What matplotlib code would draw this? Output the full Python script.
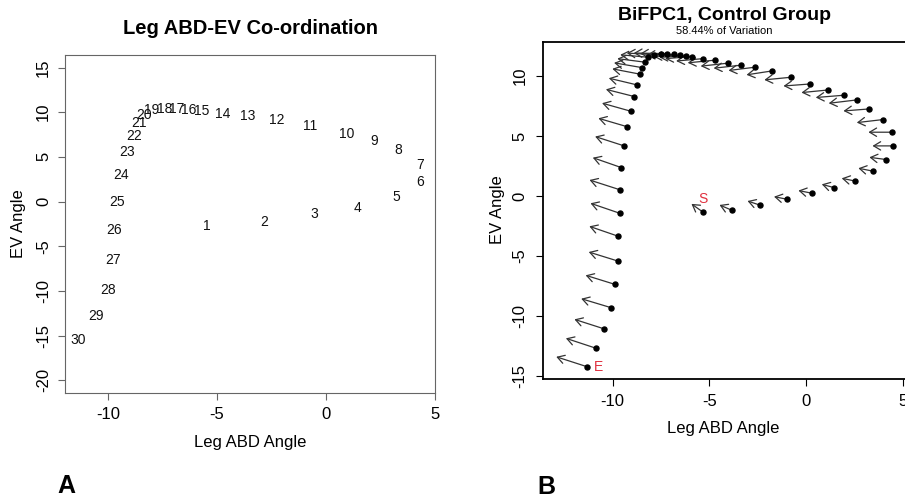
import numpy as np
from matplotlib import pyplot as plt

plt.rcParams['font.family'] = ['Liberation Sans', 'DejaVu Sans']
plt.rcParams['axes.unicode_minus'] = False

# panel A: numbered time points
a_labels = [str(i) for i in range(1, 31)]
a_x = [-5.46, -2.85, -0.54, 1.44, 3.21, 4.34, 4.34, 3.33, 2.22, 0.95,
       -0.74, -2.27, -3.60, -4.75, -5.72, -6.29, -6.87, -7.41, -7.99, -8.37,
       -8.59, -8.79, -9.12, -9.43, -9.60, -9.71, -9.78, -10.01, -10.58, -11.39]
a_y = [-2.76, -2.31, -1.37, -0.70, 0.52, 2.23, 4.10, 5.73, 6.77, 7.51,
       8.40, 9.15, 9.52, 9.79, 10.16, 10.27, 10.35, 10.38, 10.27, 9.71,
       8.78, 7.37, 5.50, 3.01, 0.0, -3.20, -6.58, -9.93, -12.87, -15.48]

# panel B: points with direction arrows
b_x = [-5.35, -3.84, -2.36, -0.97, 0.29, 1.45, 2.51, 3.47, 4.15, 4.51,
       4.46, 3.96, 3.27, 2.62, 1.95, 1.15, 0.22, -0.77, -1.74, -2.62,
       -3.39, -4.06, -4.73, -5.33, -5.90, -6.20, -6.50, -6.85, -7.19, -7.52,
       -7.88, -8.19, -8.31, -8.48, -8.57, -8.74, -8.88, -9.07, -9.28, -9.41,
       -9.55, -9.60, -9.64, -9.71, -9.74, -9.90, -10.08, -10.43, -10.86, -11.32]
b_y = [-1.33, -1.19, -0.78, -0.28, 0.23, 0.69, 1.25, 2.06, 3.03, 4.17,
       5.31, 6.36, 7.25, 8.00, 8.39, 8.83, 9.33, 9.89, 10.42, 10.73,
       10.89, 11.06, 11.31, 11.44, 11.61, 11.67, 11.72, 11.79, 11.86, 11.86,
       11.78, 11.56, 11.14, 10.69, 10.14, 9.25, 8.28, 7.06, 5.78, 4.17,
       2.36, 0.50, -1.44, -3.36, -5.42, -7.36, -9.31, -11.08, -12.69, -14.23]
b_dx = [-0.58, -0.64, -0.67, -0.69, -0.69, -0.64, -0.67, -0.77, -0.88, -1.08,
        -1.24, -1.34, -1.34, -1.45, -1.45, -1.39, -1.39, -1.39, -1.34, -1.39,
        -1.39, -1.39, -1.39, -1.39, -1.39, -1.39, -1.39, -1.39, -1.39, -1.39,
        -1.39, -1.42, -1.45, -1.45, -1.45, -1.46, -1.47, -1.48, -1.46, -1.50,
        -1.48, -1.60, -1.51, -1.50, -1.50, -1.50, -1.55, -1.55, -1.56, -1.60]
b_dy = [0.67, 0.44, 0.36, 0.22, 0.22, 0.28, 0.22, 0.25, 0.19, 0.0,
        0.0, -0.25, -0.17, -0.28, -0.19, -0.22, -0.17, -0.22, -0.33, -0.28,
        -0.25, -0.25, -0.22, -0.20, -0.17, -0.12, -0.10, -0.05, 0.0, 0.05,
        0.12, 0.20, 0.30, 0.40, 0.45, 0.56, 0.60, 0.67, 0.69, 0.78,
        0.83, 0.83, 0.83, 0.83, 0.75, 0.75, 0.75, 0.80, 0.83, 0.83]

W, H = 905, 501
fig = plt.figure(figsize=(W/100, H/100), dpi=100)

def px(x, y):
    return x/W, 1 - y/H

# ---- panel A
axA = fig.add_axes([65/W, 1 - 392.7/H, 370/W, 337.7/H])
for lab, x, y in zip(a_labels, a_x, a_y):
    axA.text(x, y, lab, fontsize=10, ha='center', va='center', color='#111111')
axA.set_xlim(-11.98, 5.0)
axA.set_ylim(-21.4, 16.4)
axA.set_xticks([-10, -5, 0, 5])
axA.set_yticks([-20, -15, -10, -5, 0, 5, 10, 15])
for s in axA.spines.values():
    s.set_color('#666666')
axA.tick_params(axis='x', length=5, color='#666666', labelsize=12, pad=5)
axA.tick_params(axis='y', length=5, color='#666666', labelsize=12, pad=5)
plt.setp(axA.get_yticklabels(), rotation=90, va='center')
fig.text(*px(250, 28), 'Leg ABD-EV Co-ordination', fontsize=14.5, fontweight='bold',
         ha='center', va='center')
fig.text(*px(250, 442), 'Leg ABD Angle', fontsize=12, ha='center', va='center')
fig.text(*px(18, 224), 'EV Angle', fontsize=12, ha='center', va='center', rotation=90)
fig.text(*px(66, 486), 'A', fontsize=18, fontweight='bold', ha='center', va='center')

# ---- panel B
axB = fig.add_axes([542.7/W, 1 - 379/H, 364.2/W, 336.7/H])
for x, y, dx, dy in zip(b_x, b_y, b_dx, b_dy):
    axB.annotate('', xy=(x + dx, y + dy), xytext=(x, y),
                 arrowprops=dict(arrowstyle='->,head_length=0.5,head_width=0.3',
                                 color='#333333', lw=0.9, shrinkA=0, shrinkB=0))
axB.plot(b_x, b_y, 'o', ms=3.6, color='black', zorder=3)
axB.text(b_x[0], b_y[0] + 0.5, 'S', color='#e0303e', fontsize=10, ha='center', va='bottom')
axB.text(b_x[-1] + 0.35, b_y[-1], 'E', color='#e0303e', fontsize=10, ha='left', va='center')
axB.set_xlim(-13.62, 5.21)
axB.set_ylim(-15.25, 12.8)
axB.set_xticks([-10, -5, 0, 5])
axB.set_yticks([-15, -10, -5, 0, 5, 10])
for s in axB.spines.values():
    s.set_linewidth(1.3)
axB.tick_params(length=5, labelsize=12, pad=6)
plt.setp(axB.get_yticklabels(), rotation=90, va='center')
fig.text(*px(724, 15), 'BiFPC1, Control Group', fontsize=14, fontweight='bold',
         ha='center', va='center')
fig.text(*px(724, 31), '58.44% of Variation', fontsize=8, ha='center', va='center')
fig.text(*px(723, 429), 'Leg ABD Angle', fontsize=12, ha='center', va='center')
fig.text(*px(497, 210), 'EV Angle', fontsize=12, ha='center', va='center', rotation=90)
fig.text(*px(546, 487), 'B', fontsize=18, fontweight='bold', ha='center', va='center')

plt.savefig('out.png', dpi=100)
